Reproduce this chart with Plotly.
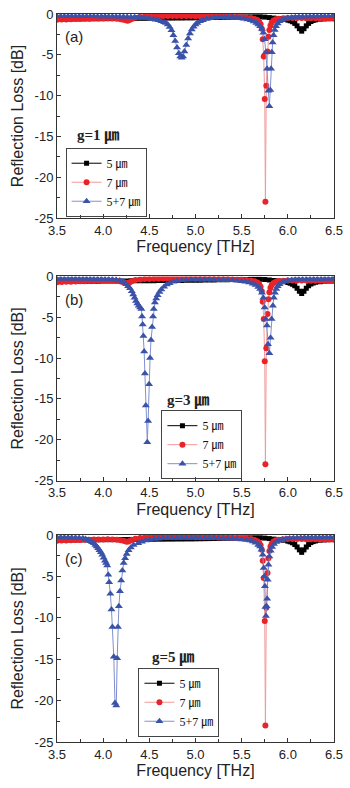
import plotly.graph_objects as go

# ---------------- data ----------------
X_TICKS = [3.5, 4.0, 4.5, 5.0, 5.5, 6.0, 6.5]
Y_TICKS = [0, -5, -10, -15, -20, -25]
PANEL_LABELS = ["(a)", "(b)", "(c)"]
GAP_LABELS = ["g=1 ㎛", "g=3 ㎛", "g=5 ㎛"]
SERIES_NAMES = ["5 ㎛", "7 ㎛", "5+7 ㎛"]

# 5 um resonator alone (same in all panels)
BLACK_F = [3.50, 3.55, 3.60, 3.65, 3.70, 3.75, 3.80, 3.85, 3.90, 3.95,
           4.00, 4.05, 4.10, 4.15, 4.20, 4.25, 4.30, 4.35, 4.40, 4.45,
           4.50, 4.55, 4.60, 4.65, 4.70, 4.75, 4.80, 4.85, 4.90, 4.95,
           5.00, 5.05, 5.10, 5.15, 5.20, 5.25, 5.30, 5.35, 5.40, 5.45,
           5.50, 5.55, 5.60, 5.65, 5.70, 5.75, 5.80, 5.85, 5.90, 5.95,
           6.00, 6.025, 6.05, 6.075, 6.10, 6.125, 6.15, 6.175, 6.20, 6.225,
           6.25, 6.275, 6.30, 6.35, 6.40, 6.45, 6.50]
BLACK_RL = [-0.62, -0.62, -0.61, -0.61, -0.60, -0.60, -0.59, -0.59, -0.58, -0.58,
            -0.57, -0.57, -0.56, -0.56, -0.55, -0.55, -0.54, -0.54, -0.53, -0.53,
            -0.52, -0.52, -0.51, -0.51, -0.50, -0.50, -0.49, -0.49, -0.48, -0.48,
            -0.47, -0.46, -0.45, -0.44, -0.43, -0.42, -0.41, -0.40, -0.39, -0.38,
            -0.37, -0.36, -0.35, -0.34, -0.34, -0.38, -0.44, -0.50, -0.56, -0.64,
            -0.75, -0.83, -0.95, -1.15, -1.45, -1.80, -2.10, -1.80, -1.45, -1.15,
            -0.92, -0.80, -0.72, -0.64, -0.60, -0.57, -0.55]

# 7 um resonator alone (same in all panels)
RED_F = [3.50, 3.55, 3.60, 3.65, 3.70, 3.75, 3.80, 3.85, 3.90, 3.95,
         4.00, 4.05, 4.10, 4.15, 4.19, 4.22, 4.245, 4.265, 4.285, 4.31,
         4.35, 4.40, 4.45, 4.50, 4.55, 4.60, 4.65, 4.70, 4.75, 4.80,
         4.85, 4.90, 4.95, 5.00, 5.05, 5.10, 5.15, 5.20, 5.25, 5.30,
         5.35, 5.40, 5.45, 5.50, 5.55, 5.60, 5.64, 5.67, 5.69, 5.705,
         5.718, 5.728, 5.739, 5.750, 5.757, 5.767, 5.780, 5.790, 5.800, 5.812,
         5.825, 5.845, 5.87, 5.90, 5.95, 6.00, 6.05, 6.10, 6.15, 6.20,
         6.25, 6.30, 6.35, 6.40, 6.45, 6.50]
RED_RL = [-0.70, -0.68, -0.66, -0.64, -0.62, -0.60, -0.58, -0.57, -0.56, -0.55,
          -0.54, -0.53, -0.54, -0.57, -0.63, -0.70, -0.78, -0.82, -0.74, -0.60,
          -0.45, -0.36, -0.32, -0.30, -0.28, -0.27, -0.26, -0.26, -0.26, -0.26,
          -0.26, -0.26, -0.26, -0.27, -0.27, -0.28, -0.28, -0.29, -0.30, -0.31,
          -0.32, -0.34, -0.36, -0.39, -0.43, -0.50, -0.60, -0.75, -0.95, -1.25,
          -1.80, -3.10, -5.20, -10.40, -23.00, -8.80, -4.60, -2.80, -1.95, -1.40,
          -1.05, -0.80, -0.65, -0.57, -0.52, -0.50, -0.50, -0.50, -0.50, -0.51,
          -0.52, -0.53, -0.54, -0.55, -0.56, -0.57]

# coupled 5+7 um, g = 1 um
BLUE_A_F = [3.50, 3.54, 3.58, 3.62, 3.66, 3.70, 3.74, 3.78, 3.82, 3.86,
            3.90, 3.94, 3.98, 4.02, 4.06, 4.10, 4.14, 4.18, 4.22, 4.26,
            4.30, 4.34, 4.38, 4.42, 4.46, 4.50, 4.54, 4.57, 4.60, 4.63,
            4.66, 4.68, 4.70, 4.72, 4.74, 4.76, 4.78, 4.80, 4.82, 4.835,
            4.85, 4.865, 4.88, 4.90, 4.92, 4.94, 4.96, 4.98, 5.00, 5.02,
            5.05, 5.08, 5.12, 5.16, 5.20, 5.24, 5.28, 5.32, 5.36, 5.40,
            5.44, 5.48, 5.52, 5.56, 5.60, 5.63, 5.66, 5.68, 5.70, 5.72,
            5.735, 5.748, 5.762, 5.775, 5.79, 5.80, 5.81, 5.818, 5.826, 5.835,
            5.845, 5.858, 5.872, 5.89, 5.91, 5.94, 5.97, 6.00, 6.04, 6.08,
            6.12, 6.16, 6.20, 6.24, 6.28, 6.32, 6.36, 6.40, 6.44, 6.48, 6.50]
BLUE_A_RL = [-0.28, -0.28, -0.28, -0.28, -0.28, -0.28, -0.28, -0.29, -0.29, -0.29,
             -0.29, -0.30, -0.30, -0.30, -0.31, -0.31, -0.32, -0.33, -0.34, -0.35,
             -0.37, -0.39, -0.42, -0.46, -0.50, -0.56, -0.63, -0.70, -0.78, -0.88,
             -1.00, -1.10, -1.30, -1.60, -2.00, -2.60, -3.30, -4.10, -4.80, -5.20,
             -5.35, -5.20, -4.60, -3.80, -3.00, -2.40, -1.90, -1.55, -1.30, -1.10,
             -0.90, -0.76, -0.62, -0.52, -0.45, -0.41, -0.39, -0.39, -0.40, -0.42,
             -0.45, -0.50, -0.57, -0.66, -0.78, -0.92, -1.10, -1.30, -1.50, -1.85,
             -2.30, -3.10, -4.70, -6.70, -9.40, -11.30, -9.30, -6.70, -4.70, -3.50,
             -2.60, -1.95, -1.50, -1.15, -0.90, -0.70, -0.57, -0.48, -0.42, -0.38,
             -0.35, -0.33, -0.32, -0.31, -0.30, -0.30, -0.29, -0.29, -0.29, -0.28, -0.28]

# coupled 5+7 um, g = 3 um
BLUE_B_F = [3.50, 3.54, 3.58, 3.62, 3.66, 3.70, 3.74, 3.78, 3.82, 3.86,
            3.90, 3.94, 3.98, 4.02, 4.06, 4.10, 4.14, 4.18, 4.21, 4.23,
            4.25, 4.27, 4.29, 4.31, 4.325, 4.34, 4.355, 4.37, 4.385, 4.40,
            4.414, 4.421, 4.428, 4.436, 4.444, 4.452, 4.462, 4.478, 4.487, 4.497,
            4.508, 4.518, 4.530, 4.540, 4.548, 4.56, 4.575, 4.59, 4.61, 4.63,
            4.66, 4.69, 4.72, 4.76, 4.80, 4.85, 4.90, 4.95, 5.00, 5.05,
            5.10, 5.15, 5.20, 5.25, 5.30, 5.35, 5.40, 5.45, 5.50, 5.54,
            5.58, 5.62, 5.65, 5.68, 5.70, 5.72, 5.735, 5.749, 5.760, 5.774,
            5.785, 5.800, 5.813, 5.824, 5.838, 5.848, 5.86, 5.875, 5.89, 5.91,
            5.94, 5.97, 6.00, 6.04, 6.08, 6.12, 6.16, 6.20, 6.24, 6.28,
            6.32, 6.36, 6.40, 6.44, 6.48, 6.50]
BLUE_B_RL = [-0.28, -0.28, -0.28, -0.28, -0.28, -0.28, -0.29, -0.29, -0.29, -0.30,
             -0.30, -0.31, -0.32, -0.33, -0.34, -0.36, -0.40, -0.50, -0.62, -0.75,
             -0.95, -1.20, -1.45, -1.80, -2.20, -2.60, -3.00, -3.30, -3.60, -3.80,
             -4.00, -4.90, -5.90, -7.30, -9.20, -11.90, -15.80, -20.30, -17.70, -13.20,
             -10.00, -7.80, -6.20, -4.90, -4.00, -3.20, -2.70, -2.30, -1.90, -1.60,
             -1.25, -1.00, -0.82, -0.66, -0.55, -0.47, -0.42, -0.39, -0.37, -0.36,
             -0.36, -0.37, -0.38, -0.40, -0.42, -0.45, -0.48, -0.52, -0.58, -0.65,
             -0.75, -0.90, -1.05, -1.30, -1.55, -2.00, -2.60, -3.80, -5.20, -6.00,
             -8.30, -9.40, -7.50, -5.20, -3.60, -2.60, -2.00, -1.55, -1.20, -0.95,
             -0.72, -0.58, -0.49, -0.43, -0.39, -0.36, -0.34, -0.33, -0.32, -0.31,
             -0.30, -0.30, -0.29, -0.29, -0.28, -0.28]

# coupled 5+7 um, g = 5 um
BLUE_C_F = [3.50, 3.54, 3.58, 3.62, 3.66, 3.70, 3.74, 3.78, 3.81, 3.84,
            3.86, 3.88, 3.90, 3.915, 3.93, 3.945, 3.96, 3.975, 3.99, 4.005,
            4.02, 4.032, 4.044, 4.055, 4.065, 4.078, 4.09, 4.10, 4.115, 4.128,
            4.142, 4.152, 4.16, 4.17, 4.182, 4.195, 4.208, 4.222, 4.238, 4.255,
            4.275, 4.30, 4.33, 4.38, 4.42, 4.46, 4.50, 4.55, 4.60, 4.65,
            4.70, 4.75, 4.80, 4.85, 4.90, 4.95, 5.00, 5.05, 5.10, 5.15,
            5.20, 5.25, 5.30, 5.35, 5.40, 5.45, 5.50, 5.55, 5.59, 5.62,
            5.65, 5.68, 5.70, 5.715, 5.728, 5.739, 5.746, 5.752, 5.757, 5.763,
            5.770, 5.776, 5.782, 5.790, 5.800, 5.815, 5.83, 5.85, 5.875, 5.90,
            5.94, 5.98, 6.02, 6.06, 6.10, 6.14, 6.18, 6.22, 6.26, 6.30,
            6.34, 6.38, 6.42, 6.46, 6.50]
BLUE_C_RL = [-0.29, -0.29, -0.30, -0.31, -0.32, -0.33, -0.35, -0.40, -0.50, -0.62,
             -0.75, -0.88, -1.00, -1.20, -1.40, -1.60, -1.85, -2.10, -2.40, -2.75,
             -3.10, -3.40, -3.70, -4.80, -5.70, -7.10, -9.00, -11.10, -14.70, -20.30,
             -20.60, -14.90, -11.10, -8.60, -6.80, -5.50, -4.30, -3.40, -2.80, -2.30,
             -1.85, -1.50, -1.20, -1.00, -0.82, -0.68, -0.58, -0.50, -0.45, -0.41,
             -0.38, -0.36, -0.35, -0.34, -0.34, -0.34, -0.34, -0.35, -0.36, -0.37,
             -0.38, -0.40, -0.42, -0.44, -0.47, -0.50, -0.54, -0.60, -0.68, -0.80,
             -0.95, -1.20, -1.40, -1.80, -2.40, -4.00, -5.00, -6.20, -8.70, -9.80,
             -8.60, -7.70, -5.40, -3.60, -2.60, -1.90, -1.45, -1.10, -0.85, -0.70,
             -0.55, -0.46, -0.41, -0.37, -0.35, -0.33, -0.32, -0.31, -0.31, -0.30,
             -0.30, -0.29, -0.29, -0.28, -0.28]

BLUE_F = [BLUE_A_F, BLUE_B_F, BLUE_C_F]
BLUE_RL = [BLUE_A_RL, BLUE_B_RL, BLUE_C_RL]

# ---------------- styling ----------------
W, H = 350, 788
ML, MR, MT, MB = 57, 11, 7, 46
DOMAINS = [[0.7197, 1.0], [0.3592, 0.6395], [0.0, 0.2844]]
LEGEND_POS = [(0.031, 0.8163), (0.377, 0.4558), (0.294, 0.102)]
GAP_POS = [(3.94, -14.9), (4.92, -15.3), (4.76, -14.85)]

BLACK = "#000000"
RED_M, RED_L = "#e8232a", "#f29a9a"
BLUE_M, BLUE_L = "#3a52a8", "#8090d0"
AXIS_FONT = "Liberation Sans, Arial, sans-serif"
SERIF = "Liberation Serif, Times New Roman, Noto Sans CJK SC, serif"

fig = go.Figure()
for i in range(3):
    sfx = "" if i == 0 else str(i + 1)
    xa, ya = "x" + sfx, "y" + sfx
    leg = "legend" + sfx
    common = dict(xaxis=xa, yaxis=ya, mode="lines+markers", legend=leg)
    fig.add_trace(go.Scatter(x=BLACK_F, y=BLACK_RL, name=SERIES_NAMES[0],
                             line=dict(color=BLACK, width=1),
                             marker=dict(symbol="square", size=5, color=BLACK), **common))
    fig.add_trace(go.Scatter(x=RED_F, y=RED_RL, name=SERIES_NAMES[1],
                             line=dict(color=RED_L, width=1),
                             marker=dict(symbol="circle", size=6, color=RED_M), **common))
    fig.add_trace(go.Scatter(x=BLUE_F[i], y=BLUE_RL[i], name=SERIES_NAMES[2],
                             line=dict(color=BLUE_L, width=1),
                             marker=dict(symbol="triangle-up", size=7, color=BLUE_M), **common))

layout = dict(width=W, height=H, margin=dict(l=ML, r=MR, t=MT, b=MB),
              paper_bgcolor="white", plot_bgcolor="white", showlegend=True,
              font=dict(family=AXIS_FONT, color="#222"))
annotations = []
for i in range(3):
    sfx = "" if i == 0 else str(i + 1)
    layout["xaxis" + sfx] = dict(
        domain=[0, 1], anchor="y" + sfx, range=[3.5, 6.5],
        tickvals=X_TICKS, ticktext=[f"{v:.1f}" for v in X_TICKS],
        ticks="inside", ticklen=4, tickcolor="#333",
        minor=dict(ticks="inside", ticklen=3, dtick=0.25, tick0=3.5, tickcolor="#333"),
        showline=True, linecolor="#333", linewidth=1, mirror=True,
        showgrid=False, zeroline=False, tickfont=dict(size=13),
        title=dict(text="Frequency [THz]", font=dict(size=16), standoff=4))
    layout["yaxis" + sfx] = dict(
        domain=DOMAINS[i], anchor="x" + sfx, range=[-25, 0],
        tickvals=Y_TICKS, ticktext=[str(v) for v in Y_TICKS],
        ticks="inside", ticklen=4, tickcolor="#333",
        minor=dict(ticks="inside", ticklen=3, dtick=2.5, tick0=0, tickcolor="#333"),
        showline=True, linecolor="#333", linewidth=1, mirror=True,
        showgrid=False, zeroline=False, tickfont=dict(size=13),
        title=dict(text="Reflection Loss [dB]", font=dict(size=16), standoff=6))
    lx, ly = LEGEND_POS[i]
    layout["legend" + sfx] = dict(
        x=lx, y=ly, xanchor="left", yanchor="top", bgcolor="rgba(255,255,255,0)",
        bordercolor="#444", borderwidth=1, font=dict(family=SERIF, size=12, color="#111"),
        itemwidth=30, tracegroupgap=0)
    annotations.append(dict(xref="x" + sfx, yref="y" + sfx, x=3.57, y=-2.8,
                            text=PANEL_LABELS[i], showarrow=False, xanchor="left",
                            font=dict(size=15, family=AXIS_FONT, color="#222")))
    gx, gy = GAP_POS[i]
    annotations.append(dict(xref="x" + sfx, yref="y" + sfx, x=gx, y=gy,
                            text="<b>" + GAP_LABELS[i] + "</b>", showarrow=False,
                            font=dict(size=15, family=SERIF, color="#222")))
layout["annotations"] = annotations
fig.update_layout(**layout)
fig.write_html("out.html")
